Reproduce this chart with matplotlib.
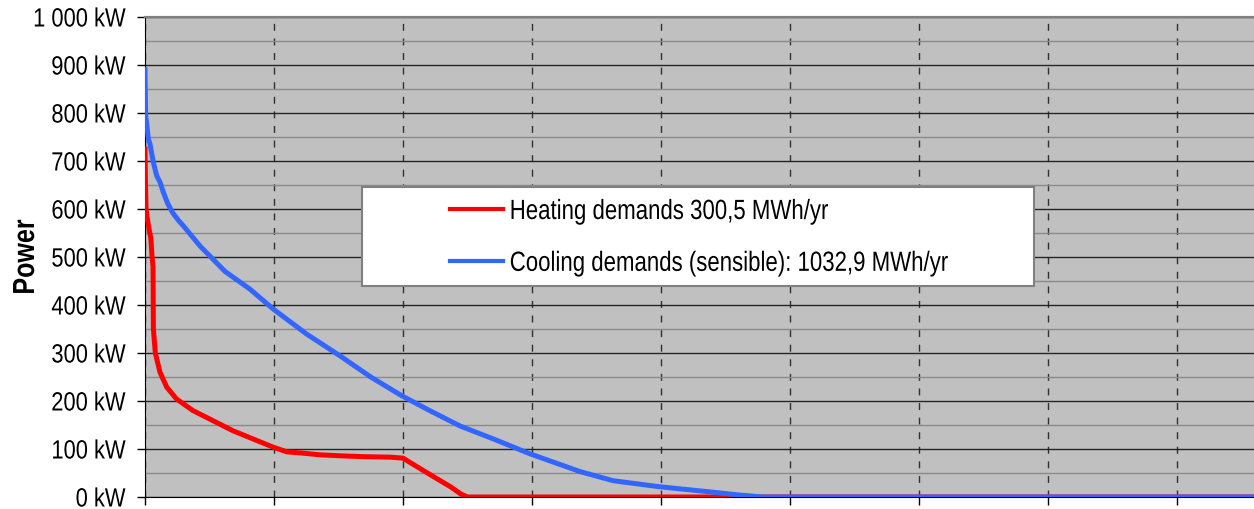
import matplotlib
matplotlib.use("Agg")
import matplotlib.pyplot as plt
from matplotlib.patches import Rectangle
from matplotlib.ticker import MultipleLocator
from matplotlib.patheffects import AbstractPathEffect
from matplotlib.transforms import Affine2D

plt.rcParams['font.family'] = ['Liberation Sans', 'DejaVu Sans']

# Load duration curves (hours sorted by demand, kW)
heat_hours = [0, 4, 8, 15, 30, 45, 55, 62, 65, 80, 116, 168, 245, 372, 527, 682,
              837, 992, 1100, 1200, 1350, 1500, 1700, 1900, 2000, 2140, 2270,
              2370, 2450, 2500, 8760]
heat_kw = [725, 650, 600, 585, 560, 540, 500, 480, 350, 300, 260, 229, 204, 180,
           159, 138, 121, 104, 94, 92, 88, 86, 84, 83, 81, 58, 37, 21, 6, 0, 0]

cool_hours = [0, 5, 13, 26, 39, 64, 91, 116, 142, 175, 215, 260, 297, 349, 426,
              620, 814, 992, 1250, 1512, 1750, 1990, 2200, 2442, 2700, 2984,
              3372, 3628, 3969, 4147, 4403, 4612, 4791, 8760]
cool_kw = [890, 794, 778, 746, 735, 698, 669, 656, 635, 612, 592, 576, 565, 548,
           523, 470, 433, 392, 340, 294, 250, 211, 181, 148, 121, 90, 53, 34, 22,
           17, 10, 4, 0, 0]

heat_label = "Heating demands 300,5 MWh/yr"
cool_label = "Cooling demands (sensible): 1032,9 MWh/yr"
y_ticks = [0, 100, 200, 300, 400, 500, 600, 700, 800, 900, 1000]
y_ticklabels = ["0 kW", "100 kW", "200 kW", "300 kW", "400 kW", "500 kW",
                "600 kW", "700 kW", "800 kW", "900 kW", "1 000 kW"]
x_ticks = [0, 1000, 2000, 3000, 4000, 5000, 6000, 7000, 8000]


class Squeeze(AbstractPathEffect):
    """Draw text horizontally condensed (narrow-font look)."""

    def __init__(self, sx=0.82, align='left'):
        super().__init__()
        self.sx = sx
        self.align = align

    def draw_path(self, renderer, gc, tpath, affine, rgbFace=None):
        ext = tpath.get_extents()
        w = ext.x1
        if self.align == 'right':
            shift = (1 - self.sx) * w
        elif self.align == 'center':
            shift = (1 - self.sx) * w / 2
        else:
            shift = 0
        t = Affine2D().scale(self.sx, 1).translate(shift, 0) + affine
        renderer.draw_path(gc, tpath, t, rgbFace)


W, H = 1254, 510
fig = plt.figure(figsize=(W / 100, H / 100), dpi=100)
ax = fig.add_axes([145 / W, 12 / H, (W - 145) / W, 480 / H])
ax.set_facecolor('#C0C0C0')

ax.set_xlim(0, 8597)
ax.set_ylim(0, 1000)

# grid
ax.yaxis.set_minor_locator(MultipleLocator(50))
ax.set_yticks(y_ticks)
ax.set_yticklabels(y_ticklabels, fontsize=19)
for t in ax.get_yticklabels():
    t.set_path_effects([Squeeze(0.83, 'right')])
ax.set_xticks(x_ticks)
ax.set_xticklabels([])
ax.grid(axis='y', which='major', color='#252525', linewidth=1.0, zorder=1)
ax.grid(axis='y', which='minor', color='#8a8a8a', linewidth=1.0, zorder=1)
ax.grid(axis='x', which='major', color='#303030', linewidth=1.0,
        linestyle=(0, (5, 5.5)), zorder=1)
ax.set_axisbelow(True)
ax.tick_params(axis='y', which='major', direction='out', length=6, width=1,
               pad=8, colors='black')
ax.tick_params(axis='y', which='minor', length=0)
ax.tick_params(axis='x', which='major', direction='out', length=6, width=1,
               colors='black')

ax.spines['right'].set_visible(False)
ax.spines['top'].set_color('#808080')
ax.spines['top'].set_linewidth(1.6)
ax.spines['left'].set_color('black')
ax.spines['bottom'].set_color('black')

l1, = ax.plot(heat_hours, heat_kw, color='#FF0000', linewidth=3.6,
              solid_joinstyle='round', zorder=3, label=heat_label)
l2, = ax.plot(cool_hours, cool_kw, color='#3366FF', linewidth=3.6,
              solid_joinstyle='round', zorder=4, label=cool_label)

ylab = ax.set_ylabel("Power", fontsize=22, fontweight='bold')
ax.yaxis.set_label_coords((41 - 145) / (W - 145), 0.5)
ylab.set_path_effects([Squeeze(0.82, 'center')])

# legend box
fig.add_artist(Rectangle((362 / W, (H - 287) / H), 672 / W, 99 / H,
                         transform=fig.transFigure, facecolor='white',
                         edgecolor='#808080', linewidth=1.5, zorder=5))
leg = fig.legend(handles=[l1, l2], loc='upper left',
                 bbox_to_anchor=(450 / W, (H - 200) / H),
                 bbox_transform=fig.transFigure, frameon=False, fontsize=20,
                 handlelength=1.9, handletextpad=0.25, labelspacing=0.93,
                 borderpad=0, borderaxespad=0)
leg.set_zorder(6)
for t in leg.get_texts():
    t.set_path_effects([Squeeze(0.80, 'left')])
for h in leg.get_lines():
    h.set_linewidth(3.0)

fig.savefig("out.png", dpi=100)
